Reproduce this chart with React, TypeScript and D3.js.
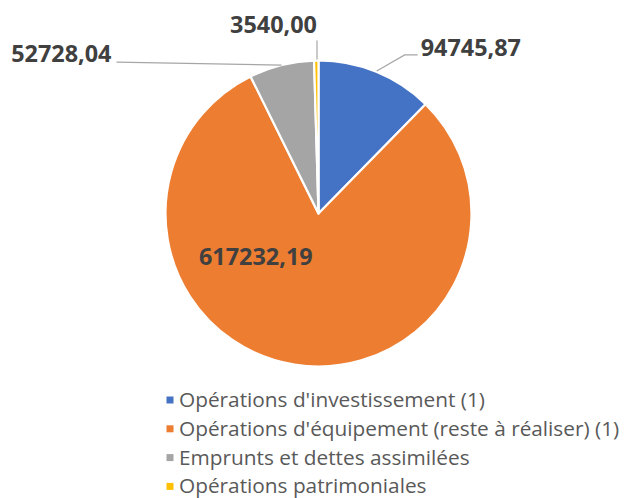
import React from 'react';
import * as d3 from 'd3';

const categories = [
  "Opérations d'investissement (1)",
  "Opérations d'équipement (reste à réaliser) (1)",
  'Emprunts et dettes assimilées',
  'Opérations patrimoniales',
];
const values = [94745.87, 617232.19, 52728.04, 3540.0];
const labels = ['94745,87', '617232,19', '52728,04', '3540,00'];
const colors = ['#4472C4', '#ED7D31', '#A5A5A5', '#FFC000'];

const W = 629;
const H = 498;
const cx = 318.5;
const cy = 213.5;
const R = 153;

type Pt = [number, number];

const polar = (angle: number, r: number): Pt => [
  cx + r * Math.sin(angle),
  cy - r * Math.cos(angle),
];

export default function App() {
  const pie = d3.pie<number>().sort(null).value(d => d);
  const arcs = pie(values);
  const arcGen = d3.arc<d3.PieArcDatum<number>>().innerRadius(0).outerRadius(R);
  const lineGen = d3.line();

  const mid = (a: d3.PieArcDatum<number>) => (a.startAngle + a.endAngle) / 2;

  // leader lines for outside labels (Excel "best fit" look)
  const blueStart = polar(mid(arcs[0]), R + 1);
  const blueLine: Pt[] = [blueStart, [blueStart[0] + 28, blueStart[1] - 16], [blueStart[0] + 41, blueStart[1] - 16]];
  const grayStart = polar(mid(arcs[2]), R);
  const grayLine: Pt[] = [grayStart, [grayStart[0] - 165, grayStart[1] - 3]];
  const yelStart = polar(mid(arcs[3]), R);
  const yelLine: Pt[] = [[yelStart[0] + 0.7, yelStart[1] - 1], [yelStart[0] + 0.7, yelStart[1] - 20]];
  const orangeLbl = polar((235 * Math.PI) / 180, R / 2);

  const labelStyle = {
    fontFamily: "'Open Sans', sans-serif",
    fontWeight: 700,
    fontSize: 23.4,
    fill: '#404040',
  };

  return (
    <svg width={W} height={H} style={{ position: 'absolute', left: 0, top: 0, background: '#fff' }}>
      <g transform={`translate(${cx}, ${cy})`}>
        {arcs.map((a, i) => (
          <path key={i} d={arcGen(a) || ''} fill={colors[i]} stroke="#fff" strokeWidth={2.2} strokeLinejoin="round" />
        ))}
      </g>
      <g fill="none" stroke="#A6A6A6" strokeWidth={1.2}>
        <path d={lineGen(blueLine) || ''} />
        <path d={lineGen(grayLine) || ''} />
        <path d={lineGen(yelLine) || ''} />
      </g>
      <g style={labelStyle}>
        <text x={blueLine[2][0] + 3} y={blueLine[2][1] + 1} textAnchor="start">{labels[0]}</text>
        <text x={orangeLbl[0]} y={orangeLbl[1] + 8} textAnchor="middle">{labels[1]}</text>
        <text x={grayLine[1][0] - 5} y={grayLine[1][1]} textAnchor="end">{labels[2]}</text>
        <text x={yelLine[1][0]} y={yelLine[1][1] - 8} textAnchor="end">{labels[3]}</text>
      </g>
      <g transform="translate(166.5, 396.5)">
        {categories.map((c, i) => (
          <g key={c} transform={`translate(0, ${i * 28.8})`}>
            <rect x={0} y={0} width={7} height={7} fill={colors[i]} />
            <text x={12.5} y={10.5} fontFamily="'Open Sans', sans-serif" fontSize={20.8} fill="#595959">{c}</text>
          </g>
        ))}
      </g>
    </svg>
  );
}
